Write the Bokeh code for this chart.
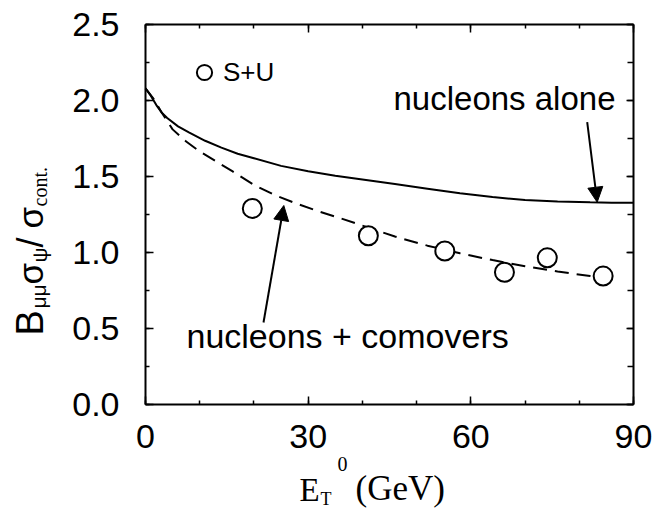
import math
from bokeh.plotting import figure
from bokeh.models import (Range1d, FixedTicker, LinearAxis, Label, Arrow, NormalHead,
                          Legend, LegendItem, ColumnDataSource, CustomJSTickFormatter)
from bokeh.embed import file_html
from bokeh.resources import INLINE

# ---- data ----
data_et = [19.7, 41.1, 55.2, 66.2, 74.1, 84.4]
data_ratio = [1.29, 1.11, 1.01, 0.87, 0.965, 0.845]

alone_et = [0, 1, 2, 3, 4, 6, 8, 11, 14, 17, 20, 25, 30, 35, 40, 46, 52, 58, 64, 70, 76, 82, 86, 90]
alone_ratio = [2.08, 2.03, 1.97, 1.92, 1.885, 1.83, 1.79, 1.735, 1.69, 1.65, 1.62, 1.57, 1.535,
               1.505, 1.48, 1.45, 1.42, 1.39, 1.365, 1.345, 1.335, 1.33, 1.328, 1.327]

comov_et = [0, 1.5, 3, 5, 7.5, 10, 13, 16, 20, 24, 28, 32, 36, 41, 46, 52, 58, 64, 70, 76, 82, 87]
comov_ratio = [2.08, 2.01, 1.92, 1.81, 1.73, 1.665, 1.60, 1.535, 1.445, 1.375, 1.32, 1.27, 1.225,
               1.165, 1.105, 1.045, 0.995, 0.95, 0.91, 0.875, 0.845, 0.82]

x_major = [0, 30, 60, 90]
x_minor = [0, 10, 20, 30, 40, 50, 60, 70, 80, 90]
y_major = [0.0, 0.5, 1.0, 1.5, 2.0, 2.5]
y_minor = [0.0, 0.25, 0.5, 0.75, 1.0, 1.25, 1.5, 1.75, 2.0, 2.25, 2.5]

SANS = "Liberation Sans"
SERIF = "Liberation Serif"

W, H = 655, 510
# plot box in canvas pixels
PX_LEFT, PX_RIGHT, PX_TOP, PX_BOTTOM = 145, 633, 24, 404
XMIN, XMAX, YMIN, YMAX = 0, 90, 0, 2.5
kx = (PX_RIGHT - PX_LEFT) / (XMAX - XMIN)
ky = (PX_BOTTOM - PX_TOP) / (YMAX - YMIN)


def dx(px):
    return XMIN + (px - PX_LEFT) / kx


def dy(py):
    return YMIN + (PX_BOTTOM - py) / ky


p = figure(width=W, height=H, output_backend="svg", toolbar_location=None,
           x_range=Range1d(dx(0), dx(W)), y_range=Range1d(dy(H), dy(0)),
           min_border=0, x_axis_location=None, y_axis_location=None)
p.xgrid.visible = False
p.ygrid.visible = False
p.outline_line_color = None
p.background_fill_color = "white"
p.border_fill_color = "white"

blank = CustomJSTickFormatter(code="return '';")


def make_axis(ticks, minor, loc, bounds, labels=True, major_in=8, minor_in=4, fmt=None):
    ax = LinearAxis(ticker=FixedTicker(ticks=ticks, minor_ticks=minor),
                    fixed_location=loc, bounds=bounds)
    ax.axis_line_width = 2
    ax.axis_line_color = "black"
    ax.major_tick_in = major_in
    ax.major_tick_out = 0
    ax.minor_tick_in = minor_in
    ax.minor_tick_out = 0
    ax.major_tick_line_width = 1.5
    ax.minor_tick_line_width = 1.5
    ax.major_tick_line_color = "black"
    ax.minor_tick_line_color = "black"
    if labels:
        ax.major_label_text_font = SANS
        ax.major_label_text_font_size = "34px"
        ax.major_label_text_color = "black"
        if fmt is not None:
            ax.formatter = fmt
    else:
        ax.formatter = blank
        ax.major_label_standoff = 0
    return ax


xb = make_axis(x_major, x_minor, YMIN, (XMIN, XMAX))
xb.major_label_standoff = 20
p.add_layout(xb, "below")

yl = make_axis(y_major, y_minor, XMIN, (YMIN, YMAX),
               fmt=CustomJSTickFormatter(code="return tick.toFixed(1);"))
yl.major_label_standoff = 26
p.add_layout(yl, "left")

xtop = make_axis(x_major, x_minor, YMAX, (XMIN, XMAX), labels=False)
p.add_layout(xtop, "above")

yr = make_axis(y_major, y_minor, XMAX, (YMIN, YMAX), labels=False, major_in=7, minor_in=6)
p.add_layout(yr, "right")

# curves
p.line(alone_et, alone_ratio, line_color="black", line_width=2)
p.line(comov_et, comov_ratio, line_color="black", line_width=2, line_dash="14 8")

# data points
src = ColumnDataSource(dict(x=data_et, y=data_ratio))
r = p.scatter("x", "y", source=src, marker="circle", size=19, fill_color="white",
              line_color="black", line_width=2)

legend = Legend(items=[LegendItem(label="S+U", renderers=[r])], location=(185, H - 91),
                glyph_width=38, glyph_height=38, label_standoff=0, padding=0, margin=0,
                border_line_color=None, background_fill_alpha=0,
                label_text_font=SANS, label_text_font_size="26px", label_text_color="black")
p.add_layout(legend)

SHIFT = 0.33  # empirical baseline correction (in em)


def lab(px, py, text, size, font=SANS, align="left", angle=0.0):
    # (px, py): intended baseline start in canvas pixels
    if angle:
        px = px - SHIFT * size
    else:
        py = py - SHIFT * size
    p.add_layout(Label(x=dx(px), y=dy(py), text=text, text_font=font,
                       text_font_size=f"{size}px", text_color="black", text_align=align,
                       text_baseline="alphabetic", angle=angle, angle_units="rad"))


lab(615, 109, "nucleons alone", 33, align="right")
lab(186, 347, "nucleons + comovers", 34)

p.add_layout(Arrow(end=NormalHead(size=15, fill_color="black", line_color="black"),
                   x_start=dx(263), y_start=dy(322), x_end=dx(283.3), y_end=dy(205),
                   line_width=2, line_color="black"))
p.add_layout(Arrow(end=NormalHead(size=15, fill_color="black", line_color="black"),
                   x_start=dx(586.7), y_start=dy(121.7), x_end=dx(596.7), y_end=dy(201.7),
                   line_width=2, line_color="black"))

# y axis title: B_mumu sigma_psi / sigma_cont.
A = math.pi / 2
lab(42, 335, "B", 38, angle=A)
lab(45, 308, "μμ", 21, angle=A)
lab(42, 284, "σ", 35, angle=A)
lab(46, 262, "ψ", 21, angle=A)
lab(42, 247, "/", 36, angle=A)
lab(42, 228, "σ", 35, angle=A)
lab(46, 206, "cont.", 20, font=SERIF, angle=A)

# x axis title: E_T^0 (GeV)
lab(299, 500, "E", 33, font=SERIF)
lab(320, 504, "T", 18, font=SERIF)
lab(337, 470, "0", 20, font=SERIF)
lab(355, 500, "(GeV)", 35, font=SERIF)

open("out.html", "w").write(file_html(p, INLINE))
